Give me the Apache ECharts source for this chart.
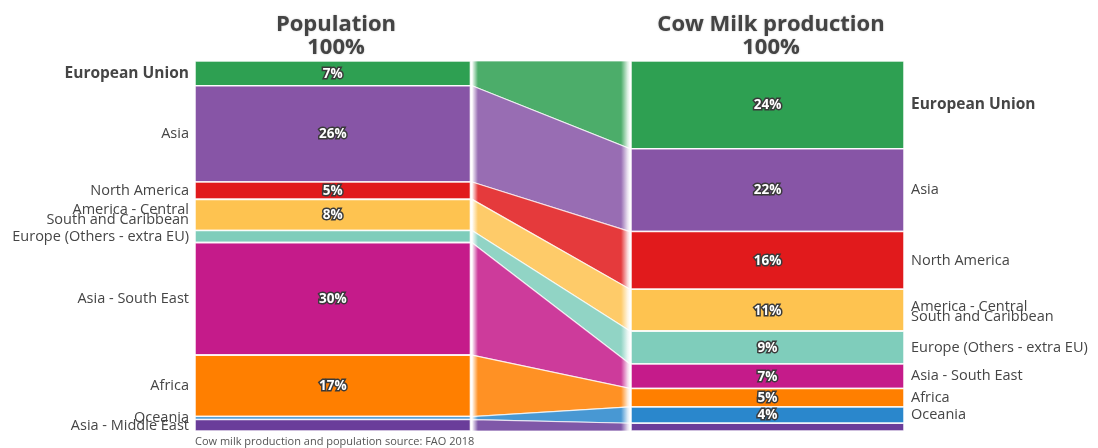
<!DOCTYPE html>
<html><head><meta charset="utf-8">
<script src="https://cdn.jsdelivr.net/npm/echarts@6/dist/echarts.min.js"></script>
<style>html,body{margin:0;padding:0;background:#fff}#c{width:1098px;height:448px}</style>
</head><body><div id="c"></div>
<script>
// ---- data ----
const categories = ['European Union', 'Asia', 'North America', 'America - Central\nSouth and Caribbean',
  'Europe (Others - extra EU)', 'Asia - South East', 'Africa', 'Oceania', 'Asia - Middle East'];
const population = [6.7, 26.0, 4.7, 8.4, 3.3, 30.4, 16.6, 0.8, 3.1];
const milk = [23.7, 22.4, 15.6, 11.3, 8.9, 6.6, 5.0, 4.4, 2.1];
const colors = ['#2ea052', '#8755a6', '#e11a1c', '#fec350', '#7fcdbb', '#c51b8a', '#ff7f00', '#2a87cc', '#6a3d9a'];
const columnTitles = ['Population\n100%', 'Cow Milk production\n100%'];
const sourceNote = 'Cow milk production and population source: FAO 2018';

// ---- layout (axis units along x) ----
const LEFT_BAR = [0, 275.5], BAND = [277, 435], RIGHT_BAR = [436, 709];
const sides = [population, milk];
const starts = sides.map(arr => { let s = 0; return arr.map(v => { const r = s; s += v; return r; }); });

const FONT = '"Open Sans", "Noto Sans", sans-serif';

function renderBar(params, api) {
  const side = api.value(0), i = api.value(1);
  const vals = sides[side];
  const st = starts[side][i], en = st + vals[i];
  const xr = side === 0 ? LEFT_BAR : RIGHT_BAR;
  const p0 = api.coord([xr[0], st]), p1 = api.coord([xr[1], en]);
  const midY = (p0[1] + p1[1]) / 2;
  const children = [{
    type: 'rect',
    shape: { x: p0[0], y: p0[1], width: p1[0] - p0[0], height: p1[1] - p0[1] },
    style: { fill: colors[i], stroke: 'rgba(255,255,255,0.9)', lineWidth: 1.6 }
  }];
  if (vals[i] >= 4) {
    children.push({
      type: 'text',
      style: {
        text: Math.round(vals[i]) + '%', x: (p0[0] + p1[0]) / 2, y: midY + 0.5,
        align: 'center', verticalAlign: 'middle',
        fill: '#fff', stroke: '#3a3a3a', lineWidth: 3, strokeFirst: true,
        fontSize: 13.5, fontWeight: 'bold', fontFamily: FONT
      }
    });
  }
  const isLeft = side === 0;
  if (isLeft || vals[i] >= 3) {
    let ly = midY;
    if (isLeft && i === 7) ly = midY - 0.5;
    if (isLeft && i === 8) ly = midY + 0.5;
    if (!isLeft && i === 3) ly = midY + 1.5;
    children.push({
      type: 'text',
      style: {
        text: categories[i], x: isLeft ? p0[0] - 6 : p1[0] + 7, y: ly,
        align: isLeft ? 'right' : 'left', verticalAlign: 'middle',
        fill: '#454545', fontSize: i === 0 ? 15.5 : 14.5, lineHeight: 10,
        fontWeight: i === 0 ? 'bold' : 'normal', fontFamily: FONT
      }
    });
  }
  return { type: 'group', children };
}

function renderBand(params, api) {
  const i = api.value(0);
  const a0 = starts[0][i], a1 = a0 + population[i];
  const b0 = starts[1][i], b1 = b0 + milk[i];
  const pts = [api.coord([BAND[0], a0]), api.coord([BAND[1], b0]), api.coord([BAND[1], b1]), api.coord([BAND[0], a1])];
  return {
    type: 'polygon',
    shape: { points: pts },
    style: { fill: colors[i], opacity: 0.86, stroke: 'rgba(255,255,255,0.85)', lineWidth: 1.2 }
  };
}

const barData = [];
sides.forEach((arr, s) => arr.forEach((v, i) => barData.push([s, i])));
const bandData = categories.map((c, i) => [i]);

const titleStyle = { fontSize: 22, fontWeight: 'bold', color: '#444', lineHeight: 23, fontFamily: FONT,
  textShadowColor: 'rgba(0,0,0,0.25)', textShadowBlur: 2 };

const chart = echarts.init(document.getElementById('c'));
chart.setOption({
  animation: false,
  backgroundColor: '#fff',
  title: [
    { text: columnTitles[0], left: 331, top: 8, textAlign: 'center', textStyle: titleStyle },
    { text: columnTitles[1], left: 766, top: 8, textAlign: 'center', textStyle: titleStyle },
    { text: sourceNote, left: 190, top: 431,
      textStyle: { fontSize: 11, fontWeight: 'normal', color: '#555', fontFamily: FONT } }
  ],
  grid: { left: 195, top: 61, width: 709, height: 370 },
  xAxis: { type: 'value', min: 0, max: 709, show: false },
  yAxis: { type: 'value', min: 0, max: 100, inverse: true, show: false },
  series: [
    { type: 'custom', renderItem: renderBand, data: bandData, z: 1, silent: true },
    { type: 'custom', renderItem: renderBar, data: barData, z: 3, silent: true }
  ],
  graphic: [
    { type: 'rect', z: 100, shape: { x: 471, y: 60, width: 7, height: 372 },
      style: { fill: new echarts.graphic.LinearGradient(0, 0, 1, 0, [
        { offset: 0, color: 'rgba(255,255,255,1)' }, { offset: 0.3, color: 'rgba(255,255,255,0.8)' }, { offset: 1, color: 'rgba(255,255,255,0)' }]) } },
    { type: 'rect', z: 100, shape: { x: 621, y: 60, width: 10, height: 372 },
      style: { fill: new echarts.graphic.LinearGradient(0, 0, 1, 0, [
        { offset: 0, color: 'rgba(255,255,255,0)' }, { offset: 0.7, color: 'rgba(255,255,255,0.85)' }, { offset: 1, color: 'rgba(255,255,255,1)' }]) } }
  ]
});
</script></body></html>
